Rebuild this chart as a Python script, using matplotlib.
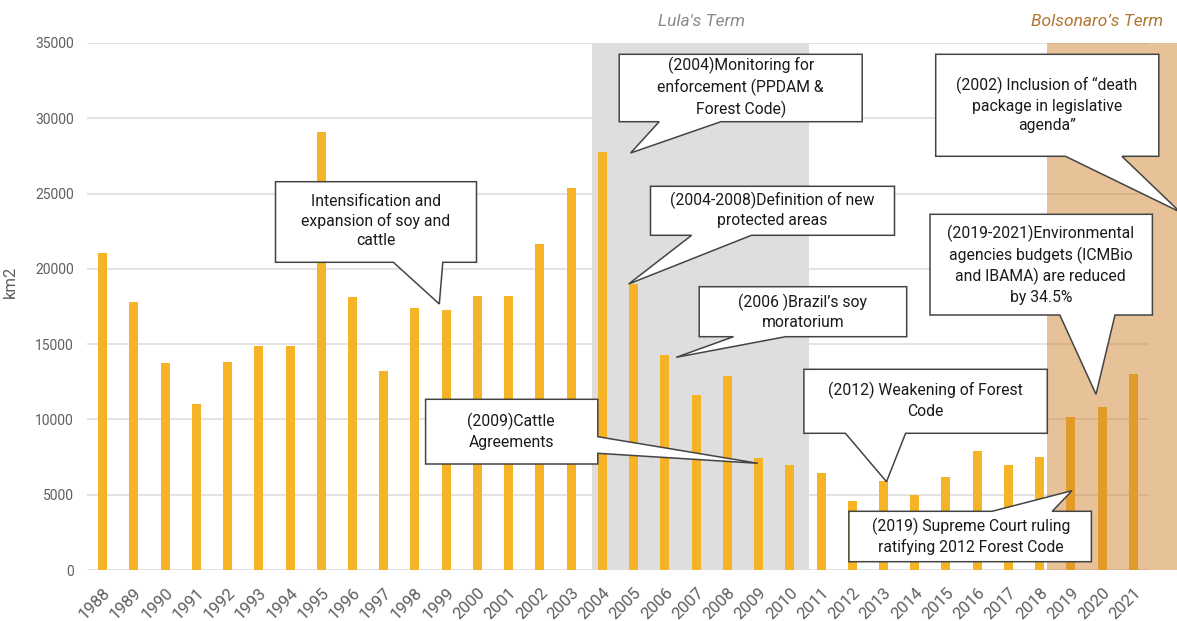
import matplotlib
matplotlib.use("Agg")
import matplotlib.pyplot as plt
from matplotlib.patches import Polygon, Rectangle

plt.rcParams['font.family'] = ['Roboto', 'DejaVu Sans']

years = [str(y) for y in range(1988, 2022)]
deforestation_km2 = [21050, 17770, 13730, 11030, 13786, 14896, 14896, 29059, 18161, 13227,
                     17383, 17259, 18226, 18165, 21651, 25396, 27772, 19014, 14286, 11651,
                     12911, 7464, 7000, 6418, 4571, 5891, 5012, 6207, 7893, 6947,
                     7536, 10129, 10851, 13038]
yticks = [0, 5000, 10000, 15000, 20000, 25000, 30000, 35000]

W, H = 1177, 621
fig = plt.figure(figsize=(W / 100, H / 100), dpi=100)
L, R, B, T = 87, 1149, 570, 43
ax = fig.add_axes([L / W, (H - B) / H, (R - L) / W, (B - T) / H])

x = list(range(len(years)))
ax.set_xlim(-0.5, len(years) - 0.5)
ax.set_ylim(0, 35000)

# Lula's term shading (behind bars)
ax.axvspan(15.66, 22.61, color='#dedede', zorder=0, lw=0)
ax.set_axisbelow(True)
ax.grid(axis='y', color='#e0e0e0', lw=1.3, zorder=0.5)
ax.bar(x, deforestation_km2, width=0.29, color='#F5B325', zorder=2)
# Bolsonaro's term shading (translucent, over bars, extends to figure edge)
ax.add_patch(Rectangle((30.25, 0), 5, 35000, facecolor='#D18531', alpha=0.5,
                       lw=0, zorder=3, clip_on=False))

ax.set_yticks(yticks)
ax.set_yticklabels([str(v) for v in yticks])
ax.set_xticks(x)
ax.set_xticklabels(years, rotation=45, ha='right', rotation_mode='anchor')
ax.tick_params(axis='both', length=0, colors='#5f5f5f')
ax.tick_params(axis='y', pad=9.5, labelsize=10)
ax.tick_params(axis='x', pad=11, labelsize=12)
for s in ax.spines.values():
    s.set_visible(False)
ax.set_ylabel('km2', color='#5f5f5f', fontsize=12)
ax.yaxis.set_label_coords((17.5 - L) / (R - L), (B - 281.5) / (B - T))

# Overlay in pixel coordinates for annotations
ov = fig.add_axes([0, 0, 1, 1], zorder=10)
ov.set_xlim(0, W)
ov.set_ylim(H, 0)
ov.axis('off')
ov.patch.set_alpha(0)

ov.text(702, 21, "Lula's Term", ha='center', va='center', style='italic',
        color='#8a8a8a', fontsize=12.5)
ov.text(1097, 21, "Bolsonaro’s Term", ha='center', va='center', style='italic',
        color='#B0762F', fontsize=12.5)


def callout(box, pointer, side, text, tx, ty):
    x0, y0, x1, y1 = box
    b1, b2, tip = pointer
    if side == 'bottom':
        pts = [(x0, y0), (x1, y0), (x1, y1), (b2, y1), tip, (b1, y1), (x0, y1)]
    elif side == 'top':
        pts = [(x0, y0), (b1, y0), tip, (b2, y0), (x1, y0), (x1, y1), (x0, y1)]
    else:  # right
        pts = [(x0, y0), (x1, y0), (x1, b1), tip, (x1, b2), (x1, y1), (x0, y1)]
    ov.add_patch(Polygon(pts, closed=True, facecolor='white', edgecolor='#444444',
                         lw=1.1, joinstyle='miter'))
    ov.text(tx, ty, text, ha='center', va='center', fontsize=11.3, color='#1a1a1a',
            linespacing=1.35)


callout((275.5, 181.7, 476.5, 262.3), (393.4, 442.8, (439.3, 304)), 'bottom',
        "Intensification and\nexpansion of soy and\ncattle", 375.8, 221)
callout((619.2, 54.3, 862.2, 121.7), (659.2, 720.9, (630.6, 153)), 'bottom',
        "(2004)Monitoring for\nenforcement (PPDAM &\nForest Code)", 740.7, 87.7)
callout((935.7, 54.3, 1158.8, 156.3), (1065.5, 1121.9, (1180, 212)), 'bottom',
        "(2002) Inclusion of “death\npackage in legislative\nagenda”", 1046.9, 105)
callout((650.5, 186.3, 894.5, 235.3), (691.6, 751.4, (628.7, 284)), 'bottom',
        "(2004-2008)Definition of new\nprotected areas", 772.3, 210)
callout((699.2, 286.7, 906.7, 336.7), (733.5, 785.6, (676.3, 357.3)), 'bottom',
        "(2006 )Brazil’s soy\nmoratorium", 802.8, 311.7)
callout((930, 214.3, 1152.4, 315), (1059.8, 1115, (1096, 394.3)), 'bottom',
        "(2019-2021)Environmental\nagencies budgets (ICMBio\nand IBAMA) are reduced\nby 34.5%",
        1040.8, 264.5)
callout((803.9, 369.3, 1047.3, 433.3), (845.4, 905.6, (886.5, 481.7)), 'bottom',
        "(2012) Weakening of Forest\nCode", 925, 400.3)
callout((848.9, 511.3, 1091.4, 561.7), (992, 1052.2, (1072, 490.7)), 'top',
        "(2019) Supreme Court ruling\nratifying 2012 Forest Code", 971, 536.2)
callout((425.6, 399.3, 597.8, 464), (436.7, 453.3, (757.8, 463.3)), 'right',
        "(2009)Cattle\nAgreements", 511.3, 431.3)

fig.savefig('out.png', dpi=100)
